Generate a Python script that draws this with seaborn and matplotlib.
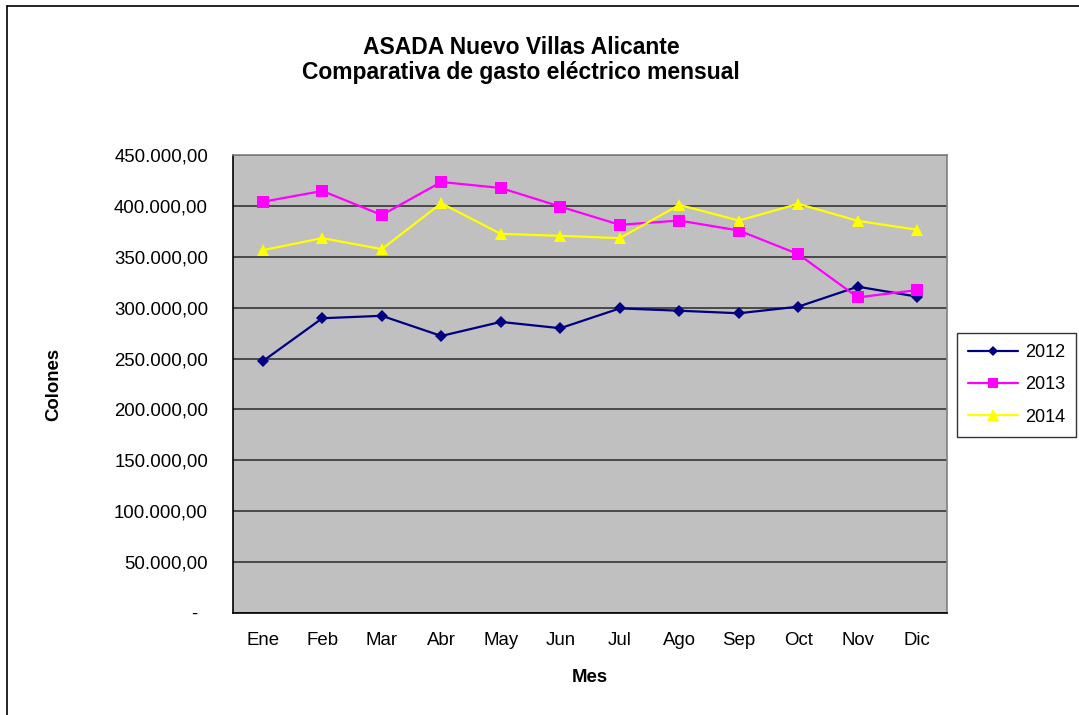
import numpy as np
import pandas as pd
import seaborn as sns
import matplotlib.pyplot as plt
from matplotlib.lines import Line2D
from matplotlib.ticker import FuncFormatter, MultipleLocator

# monthly electricity spending (colones)
months = ["Ene", "Feb", "Mar", "Abr", "May", "Jun", "Jul", "Ago", "Sep", "Oct", "Nov", "Dic"]
gasto_2012 = [247400, 289600, 292000, 272200, 286000, 279800, 299300, 297000, 294500, 301000, 320600, 310800]
gasto_2013 = [404000, 414700, 391000, 423500, 417600, 399300, 381400, 385600, 375800, 352600, 310100, 317300]
gasto_2014 = [356500, 368300, 357500, 402600, 372500, 370600, 368300, 401000, 385600, 402000, 385300, 376500]
years = ["2012", "2013", "2014"]

df = pd.DataFrame({
    "mes": list(range(len(months))) * 3,
    "gasto": gasto_2012 + gasto_2013 + gasto_2014,
    "anio": [y for y in years for _ in months],
})

sns.set_style("white")
plt.rcParams["font.family"] = ["Liberation Sans", "DejaVu Sans"]
plt.rcParams["text.color"] = "black"
plt.rcParams["axes.labelcolor"] = "black"
plt.rcParams["xtick.color"] = "black"
plt.rcParams["ytick.color"] = "black"

fig = plt.figure(figsize=(10.79, 7.15), dpi=100)
ax = fig.add_axes([0.216, 0.1427, 0.6617, 0.6405])

palette = {"2012": "#000080", "2013": "#FF00FF", "2014": "#FFFF00"}
markers = {"2012": "D", "2013": "s", "2014": "^"}
sizes = {"2012": 6.5, "2013": 8, "2014": 9}

sns.lineplot(data=df, x="mes", y="gasto", hue="anio", style="anio",
             palette=palette, markers=markers, dashes=False,
             linewidth=1.6, markeredgewidth=0, legend=False, ax=ax)

# adjust marker sizes per series
for line, y in zip(ax.get_lines(), years):
    line.set_markersize(sizes[y])

ax.set_facecolor("#C0C0C0")
ax.set_xlim(-0.5, len(months) - 0.5)
ax.set_ylim(0, 450000)
ax.yaxis.set_major_locator(MultipleLocator(50000))


def fmt(v, pos):
    if v == 0:
        return "-  "
    s = f"{v:,.2f}"
    return s.replace(",", "X").replace(".", ",").replace("X", ".")


ax.yaxis.set_major_formatter(FuncFormatter(fmt))
ax.grid(axis="y", color="#404040", linewidth=1.3)
ax.set_axisbelow(True)

ax.set_xticks(range(len(months)))
ax.set_xticklabels(months)
ax.set_xticks(np.arange(-0.5, len(months)), minor=True)
ax.tick_params(axis="x", which="major", length=0, pad=14, labelsize=13.4)
ax.tick_params(axis="x", which="minor", length=5, width=1, color="black", direction="out")
ax.tick_params(axis="y", length=5, width=1, color="black", direction="out", pad=13, labelsize=13.4)

for side in ["left", "bottom"]:
    ax.spines[side].set_color("black")
    ax.spines[side].set_linewidth(1.2)
for side in ["top", "right"]:
    ax.spines[side].set_color("#808080")
    ax.spines[side].set_linewidth(1.2)

ax.set_xlabel("Mes", fontsize=13.4, fontweight="bold", labelpad=14)
ax.set_ylabel("Colones", fontsize=13.4, fontweight="bold", labelpad=37)

fig.text(0.483, 1 - 47 / 715, "ASADA Nuevo Villas Alicante",
         ha="center", va="center", fontsize=16.5, fontweight="bold")
fig.text(0.483, 1 - 73 / 715, "Comparativa de gasto eléctrico mensual",
         ha="center", va="center", fontsize=16.5, fontweight="bold")

handles = [Line2D([], [], color=palette[y], marker=markers[y], markersize=sizes[y] - 1,
                  markeredgewidth=0, linewidth=1.6) for y in years]
leg = fig.legend(handles, years, loc="upper left", bbox_to_anchor=(0.887, 0.534),
                 frameon=True, fancybox=False, fontsize=13, handlelength=2.8,
                 labelspacing=0.85, borderpad=0.6, handletextpad=0.35, borderaxespad=0)
leg.get_frame().set_edgecolor("black")
leg.get_frame().set_linewidth(1)

# chart frame (top and left edges)
fig.add_artist(Line2D([0.0065, 1.0], [1 - 6 / 715, 1 - 6 / 715], color="black", linewidth=1.2))
fig.add_artist(Line2D([0.0065, 0.0065], [0.0, 1 - 6 / 715], color="black", linewidth=1.2))

fig.savefig("out.png", dpi=100)
